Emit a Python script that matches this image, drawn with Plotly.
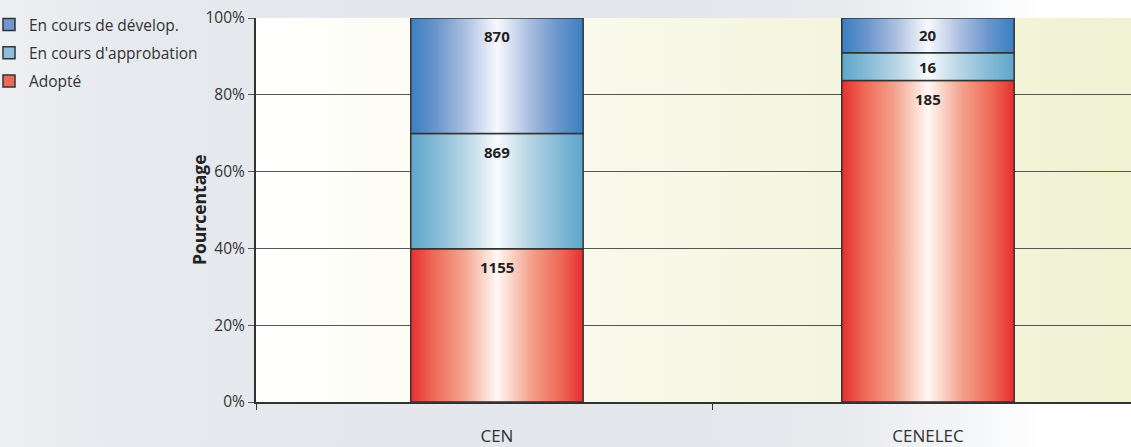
import plotly.graph_objects as go

# ---- data ----
categories = ["CEN", "CENELEC"]
series_names = ["Adopté", "En cours d'approbation", "En cours de dévelop."]
adopte = [1155, 185]
approbation = [869, 16]
developpement = [870, 20]
y_ticks = [0, 20, 40, 60, 80, 100]
y_tick_labels = ["0%", "20%", "40%", "60%", "80%", "100%"]

counts = [adopte, approbation, developpement]
totals = [sum(c[i] for c in counts) for i in range(len(categories))]
pcts = [[100.0 * c[i] / totals[i] for i in range(len(categories))] for c in counts]

# ---- style ----
W, H = 1131, 447
L, R, T, B = 256, 0, 18, 45
FONT = "Open Sans"
bar_w = 0.4
x_range = [-0.559, 1.471]

solid = ["#ec6a5c", "#8fc0da", "#6f98cc"]
scales = [
    [[0, "#e62e2e"], [0.12, "#ee6553"], [0.3, "#f4a08b"], [0.42, "#fbd6c9"], [0.5, "#fff8f5"],
     [0.58, "#fbd6c9"], [0.7, "#f4a08b"], [0.88, "#ee6553"], [1, "#e62e2e"]],
    [[0, "#5ea6cb"], [0.15, "#86bbd7"], [0.32, "#b9d6e6"], [0.44, "#e3eef5"], [0.5, "#f9fbfd"],
     [0.56, "#e3eef5"], [0.68, "#b9d6e6"], [0.85, "#86bbd7"], [1, "#5ea6cb"]],
    [[0, "#3a7fc2"], [0.15, "#6b96cc"], [0.3, "#a5bbdf"], [0.43, "#dbe3f3"], [0.5, "#f8f8fd"],
     [0.57, "#dbe3f3"], [0.7, "#a5bbdf"], [0.85, "#6b96cc"], [1, "#3a7fc2"]],
]
ranks = [3, 2, 1]

xd = [L / W, 1 - R / W]
yd = [B / H, 1 - T / H]

fig = go.Figure()

# background (page + plot area) on an invisible full-page subplot
fig.add_trace(go.Scatter(
    x=[0, 1, 1, 0, 0], y=[0, 0, 1, 1, 0], mode="lines", fill="toself",
    line=dict(width=0), hoverinfo="skip", showlegend=False,
    fillgradient=dict(type="horizontal", colorscale=[
        [0, "#edeff2"], [0.12, "#e6e9ed"], [0.55, "#e3e7eb"], [0.74, "#e7eaed"],
        [0.85, "#f4f5f7"], [0.92, "#ffffff"], [1, "#ffffff"]]),
    xaxis="x", yaxis="y"))
fig.add_trace(go.Scatter(
    x=[xd[0], xd[1], xd[1], xd[0], xd[0]], y=[yd[0], yd[0], yd[1], yd[1], yd[0]],
    mode="lines", fill="toself", line=dict(width=0), hoverinfo="skip", showlegend=False,
    fillgradient=dict(type="horizontal", colorscale=[
        [0, "#ffffff"], [0.15, "#fdfdf5"], [0.45, "#f8f8e9"], [0.72, "#f3f4db"], [1, "#f1f2d4"]]),
    xaxis="x", yaxis="y"))

xs = list(range(len(categories)))

# stacked bars (data + legend)
for s in range(3):
    fig.add_trace(go.Bar(
        x=xs, y=pcts[s], name=series_names[s], width=bar_w,
        marker=dict(color=solid[s], line=dict(color="#333333", width=1.5)),
        legendgroup=series_names[s], legendrank=ranks[s], xaxis="x2", yaxis="y2"))

# gradient overlays for each stacked segment
annotations = []
for i in xs:
    base = 0.0
    for s in range(3):
        top = base + pcts[s][i]
        x0, x1 = i - bar_w / 2, i + bar_w / 2
        fig.add_trace(go.Scatter(
            x=[x0, x1, x1, x0, x0], y=[base, base, top, top, base],
            mode="lines", fill="toself", line=dict(color="#333333", width=1.5),
            fillgradient=dict(type="horizontal", colorscale=scales[s]),
            hoverinfo="skip", showlegend=False, xaxis="x2", yaxis="y2"))
        seg_px = pcts[s][i] / 100 * (H - T - B)
        annotations.append(dict(
            x=i, y=top, xref="x2", yref="y2", text=f"<b>{counts[s][i]}</b>",
            showarrow=False, yanchor="middle", yshift=-min(18.5, seg_px / 2),
            font=dict(family=FONT, size=15, color="#222222")))
        base = top

annotations.append(dict(
    x=199 / W, y=(yd[0] + yd[1]) / 2, xref="paper", yref="paper",
    text="<b>Pourcentage</b>", textangle=-90, showarrow=False,
    xanchor="center", yanchor="middle",
    font=dict(family=FONT, size=17.5, color="#222222")))

fig.update_layout(
    width=W, height=H,
    margin=dict(l=0, r=0, t=0, b=0, autoexpand=False),
    paper_bgcolor="#e6e9ed", plot_bgcolor="rgba(0,0,0,0)",
    barmode="stack", bargap=0,
    font=dict(family=FONT, size=15, color="#333333"),
    showlegend=True,
    legend=dict(x=-11 / W, y=1 - 8 / H, xanchor="left", yanchor="top",
                traceorder="grouped", tracegroupgap=5,
                font=dict(family=FONT, size=15.5, color="#333333"),
                bgcolor="rgba(0,0,0,0)", itemwidth=30),
    xaxis=dict(domain=[0, 1], range=[0, 1], visible=False, fixedrange=True, automargin=False),
    yaxis=dict(domain=[0, 1], range=[0, 1], visible=False, fixedrange=True, automargin=False),
    xaxis2=dict(domain=xd, anchor="y2", range=x_range, tickvals=xs, ticktext=categories,
                ticks="", showgrid=False, zeroline=False, showline=True, automargin=False,
                linecolor="#333333", linewidth=2, ticklabelstandoff=18,
                tickfont=dict(family=FONT, size=17, color="#333333"),
                minor=dict(tickvals=[x_range[0], 0.5, 1.5], ticks="outside", ticklen=6,
                           tickcolor="#333333", tickwidth=1, showgrid=False)),
    yaxis2=dict(domain=yd, anchor="x2", range=[0, 100], tickvals=y_ticks, automargin=False,
                ticktext=y_tick_labels, ticks="outside", ticklen=6, tickcolor="#555555",
                showgrid=True, gridcolor="#555555", gridwidth=1, zeroline=False,
                showline=True, linecolor="#333333", linewidth=2,
                tickfont=dict(family=FONT, size=15.5, color="#333333")),
    annotations=annotations,
)

fig.write_html("out.html", config={"displayModeBar": False},
               post_script="document.body.style.margin='0';document.body.style.overflow='hidden';")
